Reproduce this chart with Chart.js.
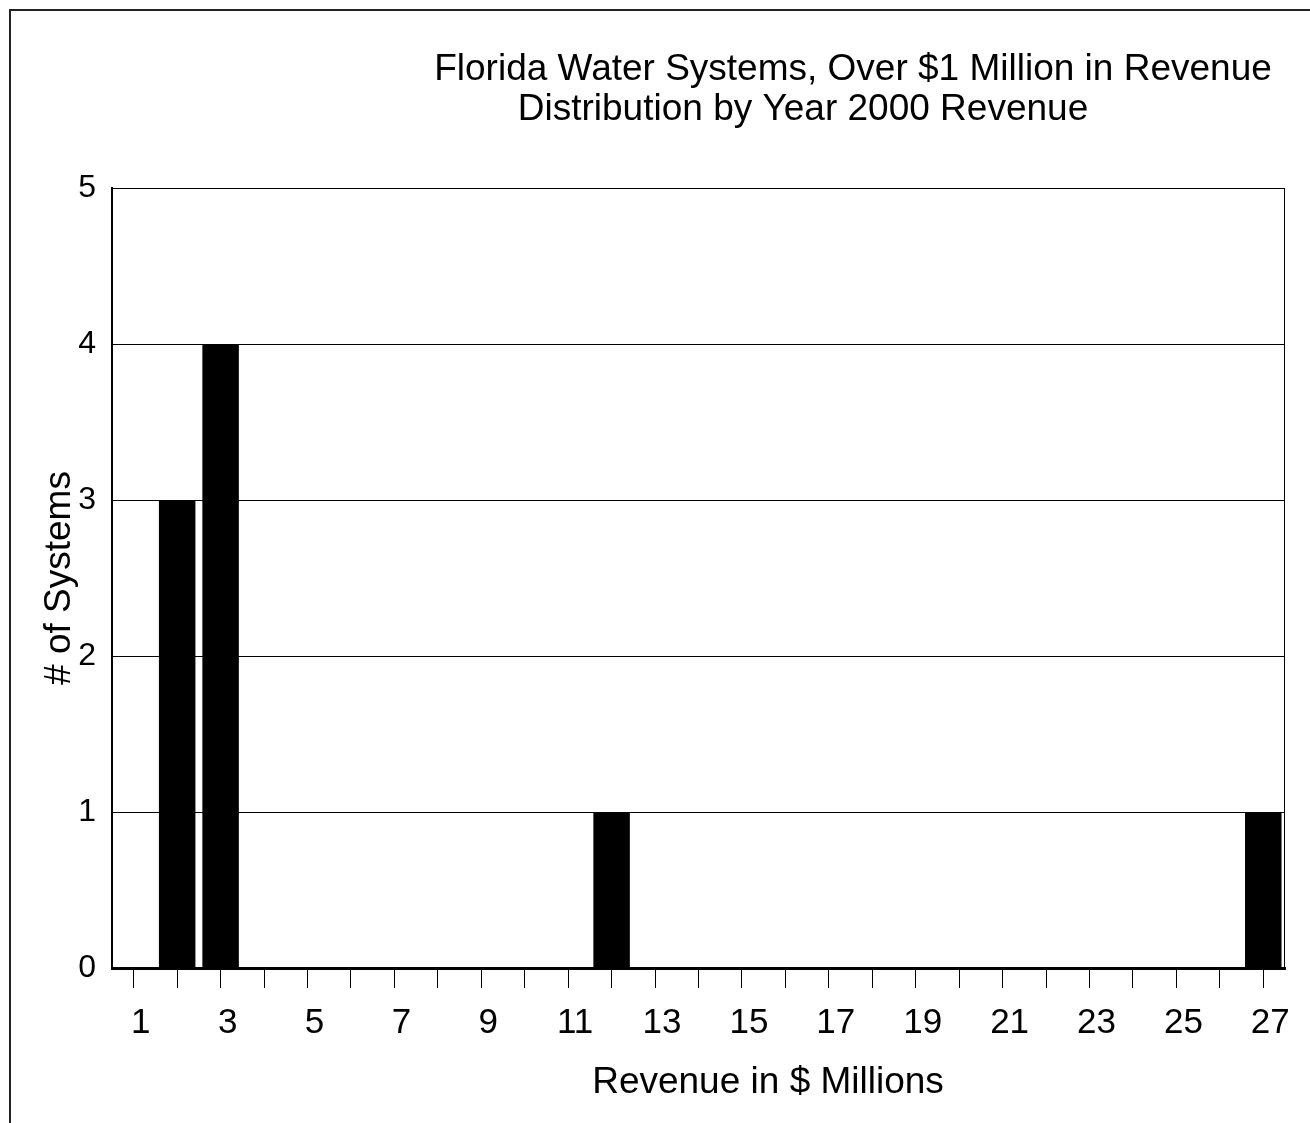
<!DOCTYPE html>
<html>
<head>
<meta charset="utf-8">
<title>Florida Water Systems, Over $1 Million in Revenue</title>
<script src="https://cdn.jsdelivr.net/npm/chart.js@4.4.1/dist/chart.umd.min.js"></script>
<style>
  html, body { margin: 0; padding: 0; background: #fff; }
  canvas { display: block; }
</style>
</head>
<body>
<canvas id="chart" width="1310" height="1123"></canvas>
<script>
// Revenue bins ($ millions) and number of systems in each bin
const revenueBins = ['1', '2', '3', '4', '5', '6', '7', '8', '9', '10', '11', '12', '13', '14',
                     '15', '16', '17', '18', '19', '20', '21', '22', '23', '24', '25', '26', '27'];
const systemCounts = [0, 3, 4, 0, 0, 0, 0, 0, 0, 0, 0, 1, 0, 0,
                      0, 0, 0, 0, 0, 0, 0, 0, 0, 0, 0, 0, 1];
const yTicks = [0, 1, 2, 3, 4, 5];

const titleLines = ['Florida Water Systems, Over $1 Million in Revenue',
                    'Distribution by Year 2000 Revenue'];
const xTitle = 'Revenue in $ Millions';
const yTitle = '# of Systems';

const FONT = '"Liberation Sans", Arial, Helvetica, sans-serif';

// Page frame, plot border and the headline / x-axis caption
const decorations = {
  id: 'decorations',
  beforeDraw(chart) {
    const ctx = chart.ctx;
    ctx.save();
    ctx.fillStyle = '#fff';
    ctx.fillRect(0, 0, chart.width, chart.height);
    ctx.restore();
  },
  afterDraw(chart) {
    const ctx = chart.ctx;
    const area = chart.chartArea;
    ctx.save();
    // outer frame (left and top edges)
    ctx.strokeStyle = '#222';
    ctx.lineWidth = 2;
    ctx.beginPath();
    ctx.moveTo(10, chart.height);
    ctx.lineTo(10, 10);
    ctx.lineTo(chart.width, 10);
    ctx.stroke();
    // right edge of the plot box
    ctx.strokeStyle = '#000';
    ctx.lineWidth = 1;
    ctx.beginPath();
    ctx.moveTo(area.right - 0.5, area.top);
    ctx.lineTo(area.right - 0.5, area.bottom);
    ctx.stroke();
    // headline
    ctx.fillStyle = '#000';
    ctx.font = '37px ' + FONT;
    ctx.textAlign = 'center';
    ctx.textBaseline = 'alphabetic';
    ctx.fillText(titleLines[0], 853, 80);
    ctx.fillText(titleLines[1], 803, 120);
    // x-axis caption
    ctx.fillText(xTitle, 768, 1093);
    ctx.restore();
  }
};

new Chart(document.getElementById('chart'), {
  type: 'bar',
  data: {
    labels: revenueBins,
    datasets: [{
      data: systemCounts,
      backgroundColor: '#000',
      borderWidth: 0,
      barPercentage: 0.84,
      categoryPercentage: 1.0
    }]
  },
  options: {
    responsive: false,
    animation: false,
    events: [],
    layout: { padding: { top: 188, right: 25, bottom: 0, left: 0 } },
    plugins: {
      legend: { display: false },
      tooltip: { enabled: false },
      title: { display: false }
    },
    scales: {
      x: {
        offset: true,
        grid: {
          offset: false,
          drawOnChartArea: false,
          drawTicks: true,
          tickLength: 20,
          color: '#000',
          lineWidth: 1
        },
        border: { display: true, color: '#000', width: 3 },
        ticks: {
          autoSkip: false,
          maxRotation: 0,
          minRotation: 0,
          color: '#000',
          padding: 14,
          labelOffset: 7,
          font: { family: FONT, size: 35 },
          callback: function (value, index) {
            return index % 2 === 0 ? this.getLabelForValue(value) : '';
          }
        },
        afterFit(scale) { scale.height = 155; }
      },
      y: {
        min: 0,
        max: 5,
        afterBuildTicks(scale) { scale.ticks = yTicks.map(v => ({ value: v })); },
        grid: { color: '#000', lineWidth: 1, drawTicks: false },
        border: { display: true, color: '#000', width: 2 },
        ticks: {
          color: '#000',
          padding: 16,
          font: { family: FONT, size: 32 }
        },
        title: {
          display: true,
          text: yTitle,
          color: '#000',
          font: { family: FONT, size: 37 },
          padding: { top: 38, bottom: 0 }
        },
        afterFit(scale) { scale.width = 112; }
      }
    }
  },
  plugins: [decorations]
});
</script>
</body>
</html>
